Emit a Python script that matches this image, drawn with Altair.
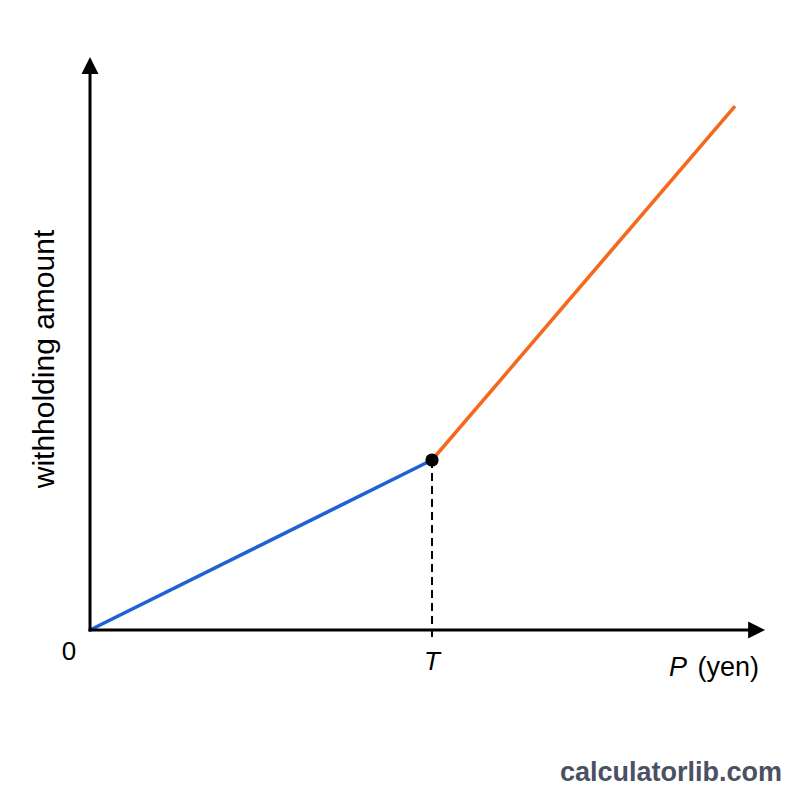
import altair as alt
import pandas as pd

# ---- data (in chart units: T = 1 on the P axis, withholding at T = 1) ----
seg_names = ["below T", "below T", "above T", "above T"]
seg_p = [0.0, 1.0, 1.0, 1.886]
seg_w = [0.0, 1.0, 1.0, 3.082]
seg_colors = ["#1f62d2", "#f36a1c"]

T_value = 1.0
W_at_T = 1.0
x_axis_end = 1.974
y_axis_end = 3.37

x_domain = [-0.2632, 2.0760]
y_domain = [-1.0, 3.7059]

FONT = "Liberation Sans"

segs = pd.DataFrame({"seg": seg_names, "P": seg_p, "W": seg_w})

xs = alt.Scale(domain=x_domain, nice=False, zero=False)
ys = alt.Scale(domain=y_domain, nice=False, zero=False)
X = lambda f: alt.X(f, type="quantitative", scale=xs, axis=None)
Y = lambda f: alt.Y(f, type="quantitative", scale=ys, axis=None)

lines = alt.Chart(segs).mark_line(strokeWidth=3.6, strokeCap="butt").encode(
    x=X("P"), y=Y("W"),
    color=alt.Color("seg:N", scale=alt.Scale(domain=["below T", "above T"], range=seg_colors), legend=None),
    detail="seg:N",
)

axes_df = pd.DataFrame({
    "x": [0.0, 0.0], "x2": [x_axis_end - 0.03, 0.0],
    "y": [0.0, 0.0], "y2": [0.0, y_axis_end - 0.06],
})
axes = alt.Chart(axes_df).mark_rule(color="black", strokeWidth=3, strokeCap="square").encode(
    x=X("x"), x2="x2", y=Y("y"), y2="y2"
)

arrow_r = alt.Chart(pd.DataFrame({"x": [x_axis_end], "y": [0.0]})).mark_point(
    shape="M0,0 L-2,-1 L-2,1 Z", size=289, filled=True, color="black", opacity=1, strokeWidth=0
).encode(x=X("x"), y=Y("y"))
arrow_u = alt.Chart(pd.DataFrame({"x": [0.0], "y": [y_axis_end]})).mark_point(
    shape="M0,0 L-1,2 L1,2 Z", size=289, filled=True, color="black", opacity=1, strokeWidth=0
).encode(x=X("x"), y=Y("y"))

dash = alt.Chart(pd.DataFrame({"x": [T_value], "y": [W_at_T], "y2": [-0.05]})).mark_rule(
    color="black", strokeWidth=2, strokeDash=[8, 5]
).encode(x=X("x"), y=Y("y"), y2="y2")

dot = alt.Chart(pd.DataFrame({"x": [T_value], "y": [W_at_T]})).mark_point(
    shape="circle", size=175, filled=True, color="black", opacity=1
).encode(x=X("x"), y=Y("y"))

lab_df = pd.DataFrame({"x": [0.0], "y": [0.0]})
zero_lab = alt.Chart(lab_df).mark_text(
    text="0", font=FONT, fontSize=26, color="black", dx=-21, dy=22, baseline="middle", align="center"
).encode(x=X("x"), y=Y("y"))

t_lab = alt.Chart(pd.DataFrame({"x": [T_value], "y": [0.0]})).mark_text(
    text="T", font=FONT, fontSize=26, fontStyle="italic", color="black", dy=32, baseline="middle", align="center"
).encode(x=X("x"), y=Y("y"))

p_lab = alt.Chart(pd.DataFrame({"x": [x_axis_end], "y": [0.0]})).mark_text(
    text="P", font=FONT, fontSize=27, fontStyle="italic", color="black", dx=-96, dy=38, baseline="middle", align="left"
).encode(x=X("x"), y=Y("y"))
yen_lab = alt.Chart(pd.DataFrame({"x": [x_axis_end], "y": [0.0]})).mark_text(
    text="(yen)", font=FONT, fontSize=27, color="black", dx=-6, dy=38, baseline="middle", align="right"
).encode(x=X("x"), y=Y("y"))

y_lab = alt.Chart(pd.DataFrame({"x": [0.0], "y": [1.594]})).mark_text(
    text="withholding amount", font=FONT, fontSize=30, color="black", angle=270, dx=0, dy=-45,
    baseline="middle", align="center"
).encode(x=X("x"), y=Y("y"))

wm = alt.Chart(lab_df).mark_text(
    text="calculatorlib.com", font=FONT, fontSize=27, fontWeight="bold", color="#4b5163",
    align="right", baseline="middle"
).encode(x=alt.value(782), y=alt.value(773))

chart = alt.layer(
    lines, axes, arrow_r, arrow_u, dash, dot, zero_lab, t_lab, p_lab, yen_lab, y_lab, wm
).properties(
    width=800, height=800, padding=0, autosize=alt.AutoSizeParams(type="none"),
    background="white"
).configure_view(stroke=None)

chart.save("out.html", embed_options={"renderer": "svg", "actions": False})
